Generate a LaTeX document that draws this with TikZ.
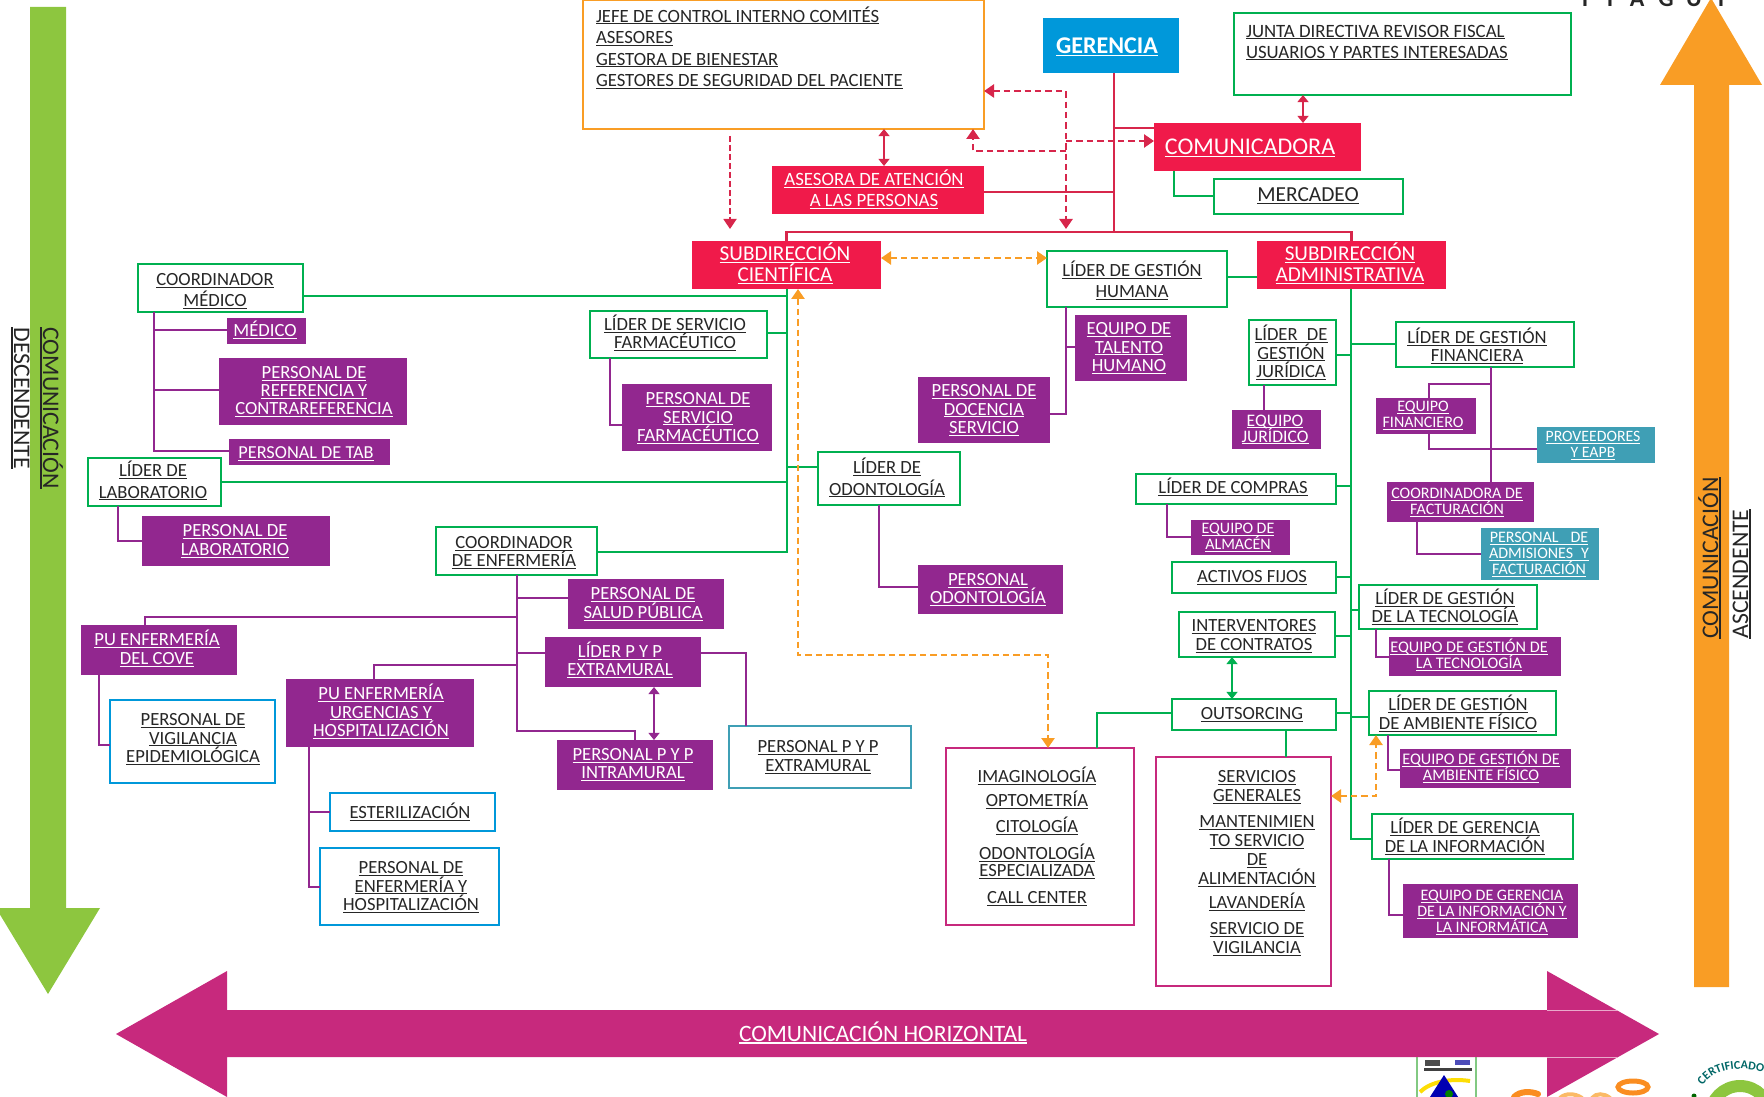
\documentclass[tikz,border=0pt]{standalone}
\usepackage{fontspec}
\setmainfont{Carlito}
\usetikzlibrary{arrows.meta,calc,decorations.text}
\definecolor{cgreen}{HTML}{00B050}
\definecolor{cpurple}{HTML}{92278F}
\definecolor{ccrim}{HTML}{F01A4A}
\definecolor{clin}{HTML}{D7264B}
\definecolor{cblue}{HTML}{0098DA}
\definecolor{corange}{HTML}{F99D25}
\definecolor{cteal}{HTML}{3F9FB5}
\definecolor{cmag}{HTML}{C7297D}
\definecolor{clime}{HTML}{8DC63F}
\definecolor{cink}{HTML}{262626}
\newsavebox\ulbox
\newcommand\uu[1]{\sbox\ulbox{#1}\smash{\rlap{\rule[-0.11em]{\wd\ulbox}{0.055em}}\usebox\ulbox}}
% style, name, x1,y1,x2,y2, text centre x, first-line centre y, lines
\newcommand\bx[9]{%
  \pgfmathsetmacro\bxw{(#5-#3)*0.5}\pgfmathsetmacro\bxh{(#6-#4)*0.5}%
  \pgfmathsetmacro\bxdx{(#7-(#3+#5)/2)*0.5}\pgfmathsetmacro\bxdy{((#4+#6)/2-#8)*0.5-0.35}%
  \node[#1,minimum width=\bxw pt,minimum height=\bxh pt] (#2) at ({(#3+#5)/2},{(#4+#6)/2})
   {\raisebox{\dimexpr\bxdy pt-0.322em\relax}[0pt][0pt]{\makebox[0pt][l]{\hspace*{\bxdx pt}\makebox[0pt][c]{\begin{tabular}[t]{@{}c@{}}#9\end{tabular}}}}};}
\newcommand\bxl[9]{%
  \pgfmathsetmacro\bxw{(#5-#3)*0.5}\pgfmathsetmacro\bxh{(#6-#4)*0.5}%
  \pgfmathsetmacro\bxdx{(#7-(#3+#5)/2)*0.5}\pgfmathsetmacro\bxdy{((#4+#6)/2-#8)*0.5}%
  \node[#1,minimum width=\bxw pt,minimum height=\bxh pt] (#2) at ({(#3+#5)/2},{(#4+#6)/2})
   {\raisebox{\dimexpr\bxdy pt-0.322em\relax}[0pt][0pt]{\makebox[0pt][l]{\hspace*{\bxdx pt}\begin{tabular}[t]{@{}l@{}}#9\end{tabular}}}};}
\tikzset{
 x=0.5pt,y=-0.5pt,
 fs/.style 2 args={font=\fontsize{#1}{#2}\selectfont},
 base/.style={inner sep=0pt,outer sep=0pt,rectangle,text=cink},
 gbox/.style={base,draw=cgreen,line width=1.35pt,fill=white},
 obox/.style={base,draw=corange,line width=1.35pt,fill=white},
 bbox/.style={base,draw=cblue,line width=1.35pt,fill=white},
 tbox/.style={base,draw=cteal,line width=1.2pt,fill=white},
 mbox/.style={base,draw=cmag,line width=1.35pt,fill=white},
 rfill/.style={base,fill=ccrim,text=white},
 pfill/.style={base,fill=cpurple,text=white},
 tfill/.style={base,fill=cteal,text=white},
 cfill/.style={base,fill=cblue,text=white},
 gline/.style={draw=cgreen,line width=1.45pt},
 pline/.style={draw=cpurple,line width=1.45pt},
 rline/.style={draw=clin,line width=1.45pt},
 rdash/.style={draw=clin,line width=1.25pt,dash pattern=on 3.2pt off 2pt},
 rthin/.style={draw=clin,line width=.9pt,dash pattern=on 3pt off 1.5pt},
 odash/.style={draw=corange,line width=1.3pt,dash pattern=on 3.2pt off 2pt},
 tipr/.style={-{Triangle[length=5pt,width=6.5pt]}},
 dtips/.style={{Triangle[length=5pt,width=6.5pt]}-{Triangle[length=5pt,width=6.5pt]}},
 bothtip/.style={{Triangle[length=3.6pt,width=5.5pt]}-{Triangle[length=3.6pt,width=5.5pt]}},
 arrowtxt/.style={inner sep=0pt,text=cink,fs={11.9}{12}},
}
\begin{document}
\begin{tikzpicture}
\useasboundingbox (0,0) rectangle (1764,1096);
\begin{scope}
\clip (0,0) rectangle (1764,1096);
% cut-off logo lettering, top right
\foreach \lx/\lt in {1585/I,1610/T,1637/A,1666/G,1694/U,1721/I}
  \node[inner sep=0pt,anchor=base,font=\fontsize{12}{12}\selectfont\bfseries,text=black!85] at (\lx,7) {\lt};
% cut-off logos, bottom right
\draw[draw=gray!60!green!70,line width=.8pt,fill=white] (1417,1050) rectangle (1476,1110);
\fill[black!70] (1425,1060) rectangle (1440,1066);
\fill[black!75] (1424,1068) rectangle (1472,1071);
\fill[blue!60!black!70] (1455,1060) rectangle (1470,1065);
\draw[draw=yellow!80!orange,line width=2pt] (1420,1092) .. controls (1430,1082) and (1450,1078) .. (1470,1081);
\fill[blue!70!black] (1444,1075) -- (1460,1100) -- (1428,1100) -- cycle;
\fill[green!50!black] (1449,1094) circle (4);
\draw[draw=corange!90!red,line width=3pt,line cap=round] (1514,1097) .. controls (1520,1091) and (1530,1091) .. (1538,1094);
\draw[draw=corange!70!white,line width=2pt,line cap=round] (1560,1098) .. controls (1565,1093) and (1575,1093) .. (1582,1098);
\draw[draw=corange!70!white,line width=2pt,line cap=round] (1592,1098) .. controls (1596,1093) and (1604,1093) .. (1610,1098);
\draw[draw=corange!90!red,line width=2.5pt] (1633,1087) ellipse (15 and 6);
\draw[draw=clime,line width=6pt] (1740,1116) circle (30);
\fill[green!40!black] (1694,1096) circle (2.5);
\path[decorate,decoration={text along path,text align=left,text={|\fontsize{6}{6}\selectfont\bfseries|CERTIFICADO},text color=teal!80!black}] (1703,1086) .. controls (1712,1070) and (1740,1062) .. (1775,1076);
\end{scope}
% communication arrows
\fill[clime] (30,7) -- (66,7) -- (66,908) -- (100,908) -- (48,994) -- (-4,908) -- (30,908) -- cycle;
\fill[corange] (1711,-2) -- (1762,85) -- (1729,85) -- (1729,987) -- (1694,987) -- (1694,85) -- (1660,85) -- cycle;
\fill[cmag] (116,1034) -- (227,971) -- (227,1010) -- (1547,1010) -- (1547,971) -- (1659,1034) -- (1547,1097) -- (1547,1057) -- (227,1057) -- (227,1097) -- cycle;
\draw[draw=cmag!40!white,line width=.3pt] (1547,1010) -- (1617,1010) (1547,1057) -- (1617,1057);
\node[arrowtxt,rotate=-90,anchor=base west] (tcom) at (43,327) {\uu{COMUNICACIÓN}};
\node[arrowtxt,rotate=-90,anchor=base west] (tdes) at (14,327) {\uu{DESCENDENTE}};
\node[arrowtxt,rotate=90,anchor=base west] (tcom2) at (1718,639) {\uu{COMUNICACIÓN}};
\node[arrowtxt,rotate=90,anchor=base west] (tasc) at (1748,639) {\uu{ASCENDENTE}};
\node[inner sep=0pt,text=white,fs={11.75}{12},anchor=base] (thor) at (883,1041) {\uu{COMUNICACIÓN HORIZONTAL}};
% coordinates of the trunks
\coordinate (trunk) at (1114,232);
\coordinate (ct) at (787,552);
\coordinate (at) at (1351,839);
\coordinate (dm) at (1066,229);
% boxes
\bxl{obox,fs={9.35}{10.75}}{jefe}{583}{0}{984}{129}{596}{16}{\uu{JEFE DE CONTROL INTERNO COMITÉS}\\\uu{ASESORES}\\\uu{GESTORA DE BIENESTAR}\\\uu{GESTORES DE SEGURIDAD DEL PACIENTE}}
\bx{cfill,fs={12}{12}}{ger}{1043}{18}{1179}{73}{1107}{45}{\bfseries\uu{GERENCIA}}
\bxl{gbox,fs={9.4}{10.5}}{junta}{1234}{13}{1571}{95}{1246}{31}{\uu{JUNTA DIRECTIVA REVISOR FISCAL}\\\uu{USUARIOS Y PARTES INTERESADAS}}
\bx{rfill,fs={12}{13}}{com}{1154}{123}{1361}{171}{1250}{146}{\uu{COMUNICADORA}}
\bx{rfill,fs={9.4}{10.5}}{ases}{772}{166}{984}{214}{874}{179}{\uu{ASESORA DE ATENCIÓN}\\\uu{A LAS PERSONAS}}
\bx{gbox,fs={10.7}{11}}{merc}{1214}{179}{1403}{214}{1308}{194}{\uu{MERCADEO}}
\bx{rfill,fs={10.6}{10.7}}{subc}{692}{241}{881}{289}{785}{253}{\uu{SUBDIRECCIÓN}\\\uu{CIENTÍFICA}}
\bx{rfill,fs={10.6}{10.7}}{suba}{1257}{241}{1446}{289}{1350}{253}{\uu{SUBDIRECCIÓN}\\\uu{ADMINISTRATIVA}}
\bx{gbox,fs={9.3}{10.5}}{lgh}{1047}{251}{1227}{307}{1132}{270}{\uu{LÍDER DE GESTIÓN}\\\uu{HUMANA}}
\bx{gbox,fs={9.3}{10.5}}{coordm}{138}{264}{303}{312}{215}{279}{\uu{COORDINADOR}\\\uu{MÉDICO}}
\bx{pfill,fs={9.3}{9.5}}{med}{227}{318}{306}{344}{265}{330}{\uu{MÉDICO}}
\bx{pfill,fs={9.3}{9}}{ref}{219}{358}{407}{425}{314}{372}{\uu{PERSONAL DE}\\\uu{REFERENCIA Y}\\\uu{CONTRAREFERENCIA}}
\bx{pfill,fs={9.15}{9.5}}{tab}{229}{439}{390}{465}{306}{452}{\uu{PERSONAL DE TAB}}
\bx{gbox,fs={9.3}{10.7}}{lab}{88}{458}{221}{506}{153}{470}{\uu{LÍDER DE}\\\uu{LABORATORIO}}
\bx{pfill,fs={9.3}{9.5}}{plab}{142}{516}{330}{566}{235}{530}{\uu{PERSONAL DE}\\\uu{LABORATORIO}}
\bx{gbox,fs={9.3}{9}}{farm}{590}{311}{767}{358}{675}{324}{\uu{LÍDER DE SERVICIO}\\\uu{FARMACÉUTICO}}
\bx{pfill,fs={9.3}{9.25}}{pfarm}{622}{384}{772}{451}{698}{398}{\uu{PERSONAL DE}\\\uu{SERVICIO}\\\uu{FARMACÉUTICO}}
\bx{gbox,fs={9.3}{10.7}}{odon}{818}{452}{960}{505}{887}{467}{\uu{LÍDER DE}\\\uu{ODONTOLOGÍA}}
\bx{pfill,fs={9.3}{9}}{podon}{918}{565}{1063}{614}{988}{579}{\uu{PERSONAL}\\\uu{ODONTOLOGÍA}}
\bx{pfill,fs={9.3}{9.25}}{etal}{1075}{315}{1187}{381}{1129}{328}{\uu{EQUIPO DE}\\\uu{TALENTO}\\\uu{HUMANO}}
\bx{pfill,fs={9.3}{9.25}}{pdoc}{918}{377}{1050}{443}{984}{390}{\uu{PERSONAL DE}\\\uu{DOCENCIA}\\\uu{SERVICIO}}
\bx{gbox,fs={9.3}{9}}{coorde}{436}{527}{597}{575}{514}{542}{\uu{COORDINADOR}\\\uu{DE ENFERMERÍA}}
\bx{pfill,fs={9.3}{9.5}}{salud}{568}{579}{724}{629}{643}{593}{\uu{PERSONAL DE}\\\uu{SALUD PÚBLICA}}
\bx{pfill,fs={9.3}{9.5}}{cove}{81}{625}{237}{675}{157}{639}{\uu{PU ENFERMERÍA}\\\uu{DEL COVE}}
\bx{pfill,fs={9.3}{9}}{lpyp}{545}{637}{701}{687}{620}{651}{\uu{LÍDER P Y P}\\\uu{EXTRAMURAL}}
\bx{pfill,fs={9.3}{9}}{pint}{557}{740}{713}{790}{633}{754}{\uu{PERSONAL P Y P}\\\uu{INTRAMURAL}}
\bx{tbox,fs={9.3}{9.5}}{pext}{729}{726}{911}{788}{818}{746}{\uu{PERSONAL P Y P}\\\uu{EXTRAMURAL}}
\bx{pfill,fs={9.3}{9.25}}{urg}{286}{679}{474}{747}{381}{693}{\uu{PU ENFERMERÍA}\\\uu{URGENCIAS Y}\\\uu{HOSPITALIZACIÓN}}
\bx{bbox,fs={9.3}{9.25}}{vig}{110}{700}{275}{783}{193}{719}{\uu{PERSONAL DE}\\\uu{VIGILANCIA}\\\uu{EPIDEMIOLÓGICA}}
\bx{bbox,fs={9.3}{9.5}}{est}{330}{793}{495}{831}{410}{812}{\uu{ESTERILIZACIÓN}}
\bx{bbox,fs={9.3}{9.25}}{penf}{320}{848}{499}{925}{411}{867}{\uu{PERSONAL DE}\\\uu{ENFERMERÍA Y}\\\uu{HOSPITALIZACIÓN}}
\bx{gbox,fs={9.3}{9.25}}{ljur}{1249}{320}{1336}{385}{1291}{334}{\uu{LÍDER\hspace{.5em}DE}\\\uu{GESTIÓN}\\\uu{JURÍDICA}}
\bx{pfill,fs={8.8}{8}}{ejur}{1232}{410}{1321}{449}{1275}{420}{\uu{EQUIPO}\\\uu{JURÍDICO}}
\bx{gbox,fs={9.3}{9}}{lfin}{1396}{322}{1574}{367}{1477}{337}{\uu{LÍDER DE GESTIÓN}\\\uu{FINANCIERA}}
\bx{pfill,fs={8}{8}}{efin}{1376}{398}{1476}{434}{1423}{406}{\uu{EQUIPO}\\\uu{FINANCIERO}}
\bx{tfill,fs={7.9}{8}}{prov}{1537}{427}{1655}{463}{1593}{436}{\uu{PROVEEDORES}\\\uu{Y EAPB}}
\bx{pfill,fs={8}{8}}{cfac}{1387}{482}{1534}{522}{1457}{493}{\uu{COORDINADORA DE}\\\uu{FACTURACIÓN}}
\bx{tfill,fs={8}{8}}{padm}{1481}{528}{1599}{580}{1539}{537}{\uu{PERSONAL\hspace{.75em}DE}\\\uu{ADMISIONES\hspace{.5em}Y}\\\uu{FACTURACIÓN}}
\bx{gbox,fs={9.3}{9.5}}{lcom}{1136}{474}{1336}{504}{1233}{487}{\uu{LÍDER DE COMPRAS}}
\bx{pfill,fs={8}{8}}{ealm}{1191}{520}{1290}{555}{1238}{528}{\uu{EQUIPO DE}\\\uu{ALMACÉN}}
\bx{gbox,fs={9.3}{9.5}}{act}{1172}{562}{1336}{593}{1252}{576}{\uu{ACTIVOS FIJOS}}
\bx{gbox,fs={9.3}{9}}{ltec}{1359}{585}{1537}{629}{1445}{598}{\uu{LÍDER DE GESTIÓN}\\\uu{DE LA TECNOLOGÍA}}
\bx{pfill,fs={8.1}{8}}{etec}{1389}{637}{1561}{676}{1469}{647}{\uu{EQUIPO DE GESTIÓN DE}\\\uu{LA TECNOLOGÍA}}
\bx{gbox,fs={9.3}{9.5}}{inter}{1179}{612}{1335}{657}{1254}{625}{\uu{INTERVENTORES}\\\uu{DE CONTRATOS}}
\bx{gbox,fs={9.3}{9.5}}{outs}{1172}{699}{1336}{730}{1252}{713}{\uu{OUTSORCING}}
\bx{gbox,fs={9.3}{9.5}}{lamb}{1369}{691}{1556}{735}{1458}{704}{\uu{LÍDER DE GESTIÓN}\\\uu{DE AMBIENTE FÍSICO}}
\bx{pfill,fs={8.1}{8}}{eamb}{1400}{749}{1571}{788}{1481}{759}{\uu{EQUIPO DE GESTIÓN DE}\\\uu{AMBIENTE FÍSICO}}
\bx{gbox,fs={9.3}{9.5}}{lger}{1372}{814}{1573}{859}{1465}{827}{\uu{LÍDER DE GERENCIA}\\\uu{DE LA INFORMACIÓN}}
\bx{pfill,fs={8}{8}}{eger}{1403}{884}{1578}{938}{1492}{895}{\uu{EQUIPO DE GERENCIA}\\\uu{DE LA INFORMACIÓN Y}\\\uu{LA INFORMÁTICA}}
\bx{mbox,fs={9.3}{9.5}}{serv}{1156}{757}{1331}{986}{1257}{776}{\uu{SERVICIOS}\\\uu{GENERALES}\\[3.5pt]\uu{MANTENIMIEN}\\\uu{TO SERVICIO}\\\uu{DE}\\\uu{ALIMENTACIÓN}\\[2.5pt]\uu{LAVANDERÍA}\\[3.5pt]\uu{SERVICIO DE}\\\uu{VIGILANCIA}}
\bx{mbox,fs={9.3}{9.5}}{imgb}{946}{748}{1134}{925}{1037}{776}{\uu{IMAGINOLOGÍA}\\[2.5pt]\uu{OPTOMETRÍA}\\[3.5pt]\uu{CITOLOGÍA}\\[4pt]\uu{ODONTOLOGÍA}\\[-1pt]\uu{ESPECIALIZADA}\\[4pt]\uu{CALL CENTER}}
% crimson connectors
\draw[rline] (ger.south -| trunk) -- (trunk);
\draw[rline] (subc.north) |- (trunk) -| (suba.north);
\draw[rline] (com.west |- 0,128) -- (trunk |- 0,128);
\draw[rline] (ases.east |- 0,192) -- (trunk |- 0,192);
\draw[rline,bothtip] (jefe.south -| 884,0) -- (ases.north -| 884,0);
\draw[rline,bothtip] (junta.south -| 1303,0) -- (com.north -| 1303,0);
\draw[rthin,tipr,shorten <=3.5pt,shorten >=6pt] (jefe.south -| 730,0) -- (subc.north -| 730,0);
\draw[rdash,dtips] (jefe.east |- 0,91) -| (dm);
\draw[rdash,tipr] (dm |- 0,151) -- (973,151) -- (jefe.south -| 973,0);
\draw[rdash,tipr] (dm |- 0,141) -- (com.west |- 0,141);
% green connectors
\draw[gline] (subc.south -| ct) -- (ct) -- (coorde.east |- ct);
\draw[gline] (coordm.east |- 0,296) -- (ct |- 0,296);
\draw[gline] (farm.east |- 0,333) -- (ct |- 0,333);
\draw[gline] (lab.east |- 0,482) -- (ct |- 0,482);
\draw[gline] (ct |- 0,467) -- (odon.west |- 0,467);
\draw[gline] (lgh.east |- 0,277) -- (suba.west |- 0,277);
\draw[gline] (com.south -| 1174,0) |- (merc.west |- 0,196);
\draw[gline] (suba.south -| at) -- (at) -- (lger.west |- at);
\draw[gline] (ljur.east |- 0,355) -- (at |- 0,355);
\draw[gline] (at |- 0,344) -- (lfin.west |- 0,344);
\draw[gline] (lcom.east |- 0,486) -- (at |- 0,486);
\draw[gline] (act.east |- 0,577) -- (at |- 0,577);
\draw[gline] (at |- 0,610) -- (ltec.west |- 0,610);
\draw[gline] (inter.east |- 0,636) -- (at |- 0,636);
\draw[gline] (outs.east |- 0,713) -- (at |- 0,713);
\draw[gline] (at |- 0,717) -- (lamb.west |- 0,717);
\draw[gline,bothtip] (inter.south -| 1232,0) -- (outs.north -| 1232,0);
\draw[gline] (outs.west |- 0,713) -| (imgb.north -| 1097,0);
\draw[gline] (outs.south -| 1286,0) -- (serv.north -| 1286,0);
% purple connectors
\draw[pline] (coordm.south -| 154,0) |- (tab.west |- 0,451);
\draw[pline] (coordm.south -| 154,0) |- (med.west |- 0,330);
\draw[pline] (coordm.south -| 154,0) |- (ref.west |- 0,390);
\draw[pline] (lab.south -| 118,0) |- (plab.west |- 0,541);
\draw[pline] (farm.south -| 610,0) |- (pfarm.west |- 0,425);
\draw[pline] (odon.south -| 879,0) |- (podon.west |- 0,587);
\draw[pline] (lgh.south -| 1066,0) |- (pdoc.east |- 0,414);
\draw[pline] (lgh.south -| 1066,0) |- (etal.west |- 0,347);
\draw[pline] (coorde.south -| 517,0) |- (635,731) -- (pint.north -| 635,0);
\draw[pline] (coorde.south -| 517,0) |- (salud.west |- 0,598);
\draw[pline] (517,617) -| (cove.north -| 145,0);
\draw[pline] (517,653) -- (lpyp.west |- 0,653);
\draw[pline] (517,665) -| (urg.north -| 374,0);
\draw[pline] (lpyp.east |- 0,653) -| (pext.north -| 746,0);
\draw[pline,bothtip] (lpyp.south -| 654,0) -- (pint.north -| 654,0);
\draw[pline] (cove.south -| 99,0) |- (vig.west |- 0,745);
\draw[pline] (urg.south -| 309,0) |- (penf.west |- 0,887);
\draw[pline] (309,812) -- (est.west |- 0,812);
\draw[pline] (ljur.south -| 1264,0) -- (ejur.north -| 1264,0);
\draw[pline] (lfin.south -| 1491,0) -- (cfac.north -| 1491,0);
\draw[pline] (1491,384) -| (efin.north -| 1429,0);
\draw[pline] (efin.south -| 1429,0) |- (prov.west |- 0,449);
\draw[pline] (cfac.south -| 1417,0) |- (padm.west |- 0,554);
\draw[pline] (lcom.south -| 1167,0) |- (ealm.west |- 0,537);
\draw[pline] (ltec.south -| 1376,0) |- (etec.west |- 0,657);
\draw[pline] (lamb.south -| 1388,0) |- (eamb.west |- 0,770);
\draw[pline] (lger.south -| 1389,0) |- (eger.west |- 0,915);
% orange dashed connectors
\draw[odash,dtips] (subc.east |- 0,258) -- (lgh.west |- 0,258);
\draw[odash,dtips] (subc.south -| 798,0) -- (798,655) -- (1048,655) -- (imgb.north -| 1048,0);
\draw[odash,dtips] (serv.east |- 0,796) -| (lamb.south -| 1376,0);
\end{tikzpicture}
\end{document}
